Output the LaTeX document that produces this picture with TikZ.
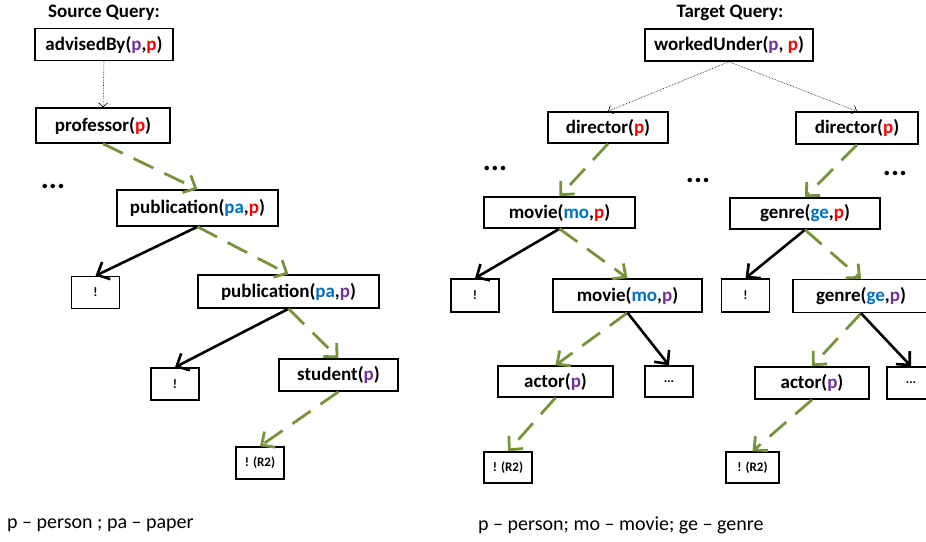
\documentclass[tikz,border=0pt]{standalone}
\usepackage{fontspec}
\setmainfont{Carlito}
\usetikzlibrary{arrows.meta}

\definecolor{vpurple}{HTML}{7030A0}
\definecolor{vred}{HTML}{FF0000}
\definecolor{vblue}{HTML}{0070C0}
\definecolor{olivedash}{HTML}{77933C}

% coloured argument letters
\newcommand{\vpu}[1]{\textcolor{vpurple}{#1}}
\newcommand{\vre}[1]{\textcolor{vred}{#1}}
\newcommand{\vbl}[1]{\textcolor{vblue}{#1}}

\tikzset{
  qhead/.style={font=\fontsize{19}{22}\selectfont\bfseries, inner sep=0pt},
  qbox/.style={draw, line width=1.5pt, inner sep=0pt, minimum height=32pt,
    font=\fontsize{19}{22}\selectfont\bfseries},
  leaf/.style={draw, line width=1.5pt, inner sep=0pt, minimum width=48pt,
    minimum height=32pt, font=\fontsize{13}{15}\selectfont\bfseries},
  moredots/.style={font=\fontsize{30}{32}\selectfont\bfseries, inner sep=0pt},
  legend/.style={font=\fontsize{20}{23}\selectfont, inner sep=0pt, anchor=west},
  solid arr/.style={line width=2.6pt, -{Straight Barb[length=10pt,width=19pt]}},
  green arr/.style={draw=olivedash, line width=2.8pt, dash pattern=on 22pt off 12pt,
    -{Straight Barb[length=10pt,width=19pt]}},
  dot arr/.style={densely dotted, line width=0.6pt, -{Straight Barb[length=4pt,width=9pt]}}
}

\begin{document}
\begin{tikzpicture}[x=1pt,y=-1pt]
\useasboundingbox (0,0) rectangle (926,541);

% source query
\node[qhead] (srchead) at (104,13) {Source Query:};
\node[qbox, minimum width=138pt] (advised) at (104,44.5) {advisedBy(\vpu{p},\vre{p})};
\node[qbox, minimum width=134pt, minimum height=35pt] (prof) at (103,125.5) {professor(\vre{p})};
\node[qbox, minimum width=161pt, minimum height=36pt] (pub1) at (197.5,208) {publication(\vbl{pa},\vre{p})};
\node[leaf] (cut1) at (95.5,292.5) {!};
\node[qbox, minimum width=181pt, minimum height=33pt] (pub2) at (288.5,291.5) {publication(\vbl{pa},\vpu{p})};
\node[leaf] (cut2) at (175,384) {!};
\node[qbox, minimum width=119pt] (stud) at (338.5,375) {student(\vpu{p})};
\node[leaf] (srcr2) at (260,463) {! (R2)};
\node[moredots] (srcdots) at (53,186) {...};

\draw[dot arr] (advised.south) -- (prof.north);
\draw[green arr] (prof.south) -- (pub1.north);
\draw[solid arr] (pub1.south) -- (cut1.north);
\draw[green arr] (pub1.south) -- (pub2.north);
\draw[solid arr] (pub2.south) -- (cut2.north);
\draw[green arr] (pub2.south) -- (stud.north);
\draw[green arr] (stud.south) -- (srcr2.north);

% target query
\node[qhead] (tgthead) at (730,13) {Target Query:};
\node[qbox, minimum width=168pt] (worked) at (729,45) {workedUnder(\vpu{p}, \vre{p})};
\node[qbox, minimum width=120pt, minimum height=31pt] (dir1) at (608,127.5) {director(\vre{p})};
\node[qbox, minimum width=122pt] (dir2) at (857,128) {director(\vre{p})};
\node[qbox, minimum width=151pt, minimum height=31pt] (movie1) at (559.5,212.5) {movie(\vbl{mo},\vre{p})};
\node[qbox, minimum width=150pt, minimum height=31pt] (genre1) at (805,213.5) {genre(\vbl{ge},\vre{p})};
\node[leaf, minimum height=33pt] (cutm) at (475,295.5) {!};
\node[qbox, minimum width=149pt, minimum height=33pt] (movie2) at (627.5,295.5) {movie(\vbl{mo},\vpu{p})};
\node[leaf, minimum height=33pt] (cutg) at (745.5,295.5) {!};
\node[qbox, minimum width=136pt, minimum height=33pt] (genre2) at (861,296) {genre(\vbl{ge},\vpu{p})};
\node[qbox, minimum width=115pt, minimum height=31pt] (actor1) at (555.5,381.5) {actor(\vpu{p})};
\node[leaf, minimum height=31pt] (morem) at (669,381.5) {...};
\node[qbox, minimum width=114pt] (actor2) at (812,383) {actor(\vpu{p})};
\node[leaf] (moreg) at (911,383) {...};
\node[leaf, minimum height=31pt] (r2m) at (508,467.5) {! (R2)};
\node[leaf, minimum width=53pt, minimum height=31pt] (r2g) at (752.5,467.5) {! (R2)};
\node[moredots] (dots1) at (495,168) {...};
\node[moredots] (dots2) at (698,180) {...};
\node[moredots] (dots3) at (895,173) {...};

\draw[dot arr] (worked.south) -- (dir1.north);
\draw[dot arr] (worked.south) -- (dir2.north);
\draw[green arr] (dir1.south) -- (movie1.north);
\draw[green arr] (dir2.south) -- (genre1.north);
\draw[solid arr] (movie1.south) -- (cutm.north);
\draw[green arr] (movie1.south) -- (movie2.north);
\draw[green arr] (movie2.south) -- (actor1.north);
\draw[solid arr] (movie2.south) -- (morem.north);
\draw[green arr] (actor1.south) -- (r2m.north);
\draw[solid arr] (genre1.south) -- (cutg.north);
\draw[green arr] (genre1.south) -- (genre2.north);
\draw[green arr] (genre2.south) -- (actor2.north);
\draw[solid arr] (genre2.south) -- (moreg.north);
\draw[green arr] (actor2.south) -- (r2g.north);

% abbreviations
\node[legend] (srclegend) at (7,525) {p – person ; pa – paper};
\node[legend] (tgtlegend) at (478,525) {p – person; mo – movie; ge – genre};
\end{tikzpicture}
\end{document}
